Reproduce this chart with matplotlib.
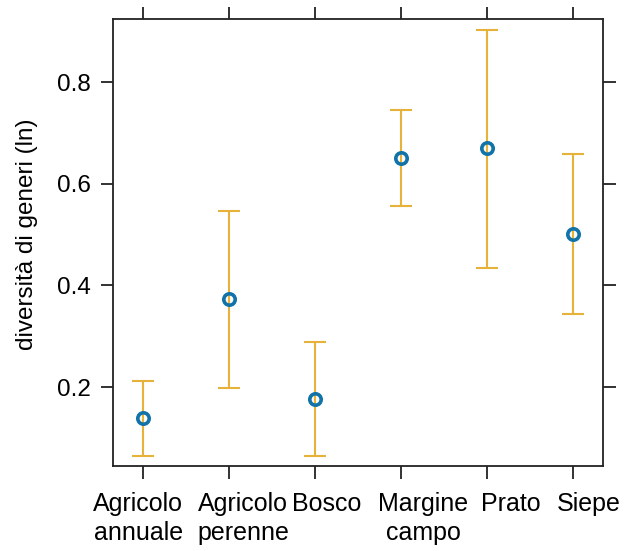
import matplotlib
matplotlib.use("Agg")
import matplotlib.pyplot as plt
import matplotlib.transforms as mtransforms
import numpy as np

plt.rcParams['font.family'] = ['Liberation Sans', 'DejaVu Sans']

categories = ["Agricolo\nannuale", "Agricolo\nperenne", "Bosco", "Margine\ncampo", "Prato", "Siepe"]
means = [0.139, 0.374, 0.176, 0.651, 0.671, 0.502]
upper = [0.212, 0.547, 0.288, 0.745, 0.902, 0.659]
lower = [0.064, 0.198, 0.064, 0.557, 0.435, 0.343]
yticks = [0.2, 0.4, 0.6, 0.8]
# horizontal nudges of the category labels (pixels), as in the reference layout
label_shift_px = [-5, 14, 12, 22, 24, 16]

fig = plt.figure(figsize=(6.25, 5.51), dpi=100)
ax = fig.add_axes([113/625, 1-466/551, (603-113)/625, (466-19)/551])

x = np.arange(1, len(categories)+1)
m = np.array(means); up = np.array(upper); lo = np.array(lower)
ax.errorbar(x, m, yerr=[m-lo, up-m], fmt='none', ecolor='#E7B23A', elinewidth=1.5,
            capsize=8, capthick=1.5, zorder=2)
ax.plot(x, m, 'o', mfc='none', mec='#1173A8', mew=2.6, ms=8.2, zorder=3)

ax.set_xlim(0.65, 6.35)
ax.set_ylim(0.045, 0.924)
ax.set_xticks(x)
ax.set_xticklabels(categories, fontsize=18, linespacing=1.22)
ax.set_yticks(yticks)
ax.set_yticklabels([f"{v:.1f}" for v in yticks], fontsize=17.5)
ax.tick_params(axis='both', direction='out', length=9, width=1.3, color='#222222',
               top=True, right=True, labeltop=False, labelright=False, pad=7)
ax.tick_params(axis='x', pad=10)
for s in ax.spines.values():
    s.set_linewidth(1.3)
    s.set_color('#222222')

for lab, dx in zip(ax.get_xticklabels(), label_shift_px):
    lab.set_transform(lab.get_transform() + mtransforms.ScaledTranslation(dx/100, 0, fig.dpi_scale_trans))

ax.set_ylabel("diversità di generi (ln)", fontsize=17.5)
ax.yaxis.set_label_coords((38-113)/490, (466-234)/447)

fig.savefig("out.png", dpi=100)
